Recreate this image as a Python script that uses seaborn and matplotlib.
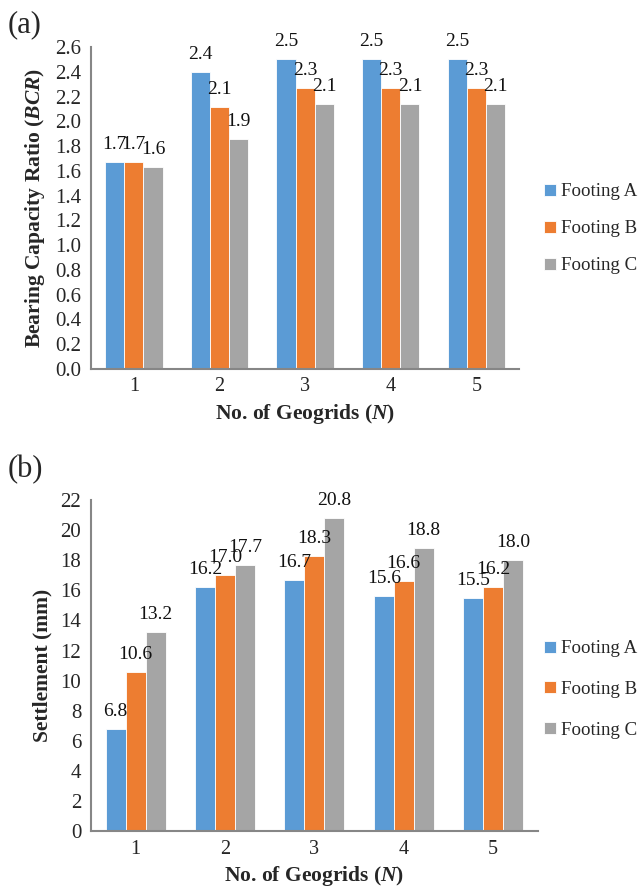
import pandas as pd
import matplotlib.pyplot as plt
import matplotlib.ticker as mticker
import seaborn as sns

geogrids = ['1', '2', '3', '4', '5']
footings = ['Footing A', 'Footing B', 'Footing C']

bcr_a = [1.67, 2.40, 2.50, 2.50, 2.50]
bcr_b = [1.67, 2.12, 2.27, 2.27, 2.27]
bcr_c = [1.63, 1.86, 2.14, 2.14, 2.14]

settle_a = [6.8, 16.2, 16.7, 15.6, 15.5]
settle_b = [10.6, 17.0, 18.3, 16.6, 16.2]
settle_c = [13.2, 17.7, 20.8, 18.8, 18.0]

colors = ['#5B9BD5', '#ED7D31', '#A5A5A5']
axis_grey = '#868686'


def make_long(a, b, c, name):
    rows = []
    for foot, vals in zip(footings, [a, b, c]):
        for n, v in zip(geogrids, vals):
            rows.append({'N': n, 'Footing': foot, name: v})
    return pd.DataFrame(rows)


bcr_df = make_long(bcr_a, bcr_b, bcr_c, 'BCR')
settle_df = make_long(settle_a, settle_b, settle_c, 'Settlement')

sns.set_style('white')
plt.rcParams['font.family'] = ['Liberation Serif', 'DejaVu Serif']
plt.rcParams['mathtext.fontset'] = 'custom'
plt.rcParams['mathtext.rm'] = 'Liberation Serif'
plt.rcParams['mathtext.it'] = 'Liberation Serif:italic'
plt.rcParams['mathtext.bf'] = 'Liberation Serif:bold'
plt.rcParams['mathtext.bfit'] = 'Liberation Serif:bold:italic'

fig = plt.figure(figsize=(6.41, 8.89), dpi=100)
ax1 = fig.add_axes([0.142, 0.585, 0.668, 0.362])
ax2 = fig.add_axes([0.142, 0.065, 0.697, 0.3726])


def draw_panel(ax, df, col, ymax, ystep, fmt, ylabel, leg_xy, leg_space):
    sns.barplot(data=df, x='N', y=col, hue='Footing', palette=colors,
                saturation=1, width=0.67, edgecolor='white', linewidth=0.6,
                ax=ax)
    for cont, foot in zip(ax.containers, footings):
        vals = df.loc[df['Footing'] == foot, col].tolist()
        ax.bar_label(cont, labels=[f'{v:.1f}' for v in vals], padding=6.5,
                     fontsize=14, color='#111111')
    ax.set_ylim(0, ymax)
    ax.set_xlim(-0.5, 4.5)
    ax.yaxis.set_major_locator(mticker.MultipleLocator(ystep))
    ax.yaxis.set_major_formatter(mticker.StrMethodFormatter(fmt))
    ax.xaxis.set_minor_locator(mticker.FixedLocator([-0.5, 0.5, 1.5, 2.5, 3.5, 4.5]))
    ax.tick_params(axis='x', which='major', length=0, labelsize=14.5, pad=6)
    ax.tick_params(axis='x', which='minor', length=5, color=axis_grey, width=1)
    ax.tick_params(axis='y', length=5, color=axis_grey, width=1, labelsize=15, pad=2)
    ax.tick_params(axis='both', direction='out')
    for s in ['top', 'right']:
        ax.spines[s].set_visible(False)
    for s in ['left', 'bottom']:
        ax.spines[s].set_color(axis_grey)
        ax.spines[s].set_linewidth(1.5)
    ax.set_xlabel(r'No. of Geogrids ($\mathbfit{N}$)', fontsize=15.5,
                  fontweight='bold', labelpad=4)
    ax.set_ylabel(ylabel, fontsize=15.5, fontweight='bold', labelpad=6)
    ax.legend(loc='center left', bbox_to_anchor=leg_xy, frameon=False,
              fontsize=13.6, handlelength=0.62, handleheight=0.62,
              handletextpad=0.28, labelspacing=leg_space, borderaxespad=0)


draw_panel(ax1, bcr_df, 'BCR', 2.6, 0.2, '{x:.1f}',
           r'Bearing Capacity Ratio ($\mathbfit{BCR}$)', (1.04, 0.435), 1.06)
draw_panel(ax2, settle_df, 'Settlement', 22, 2, '{x:.0f}',
           'Settlement (mm)', (0.997, 0.428), 1.25)

fig.text(0.012, 0.972, '(a)', fontsize=22, va='center')
fig.text(0.012, 0.472, '(b)', fontsize=22, va='center')

fig.savefig('out.png', dpi=100)
